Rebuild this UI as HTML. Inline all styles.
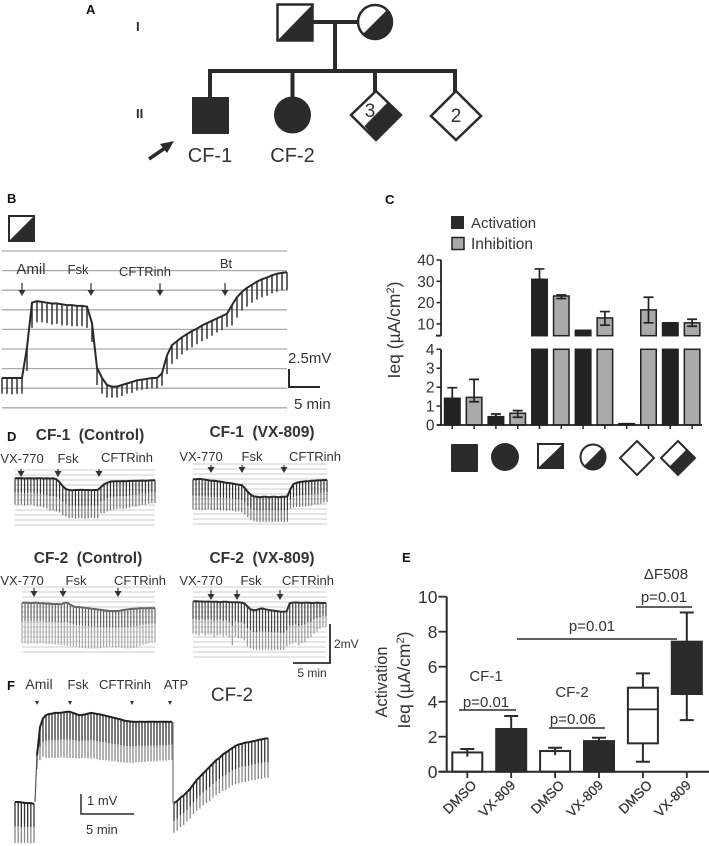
<!DOCTYPE html>
<html lang="en">
<head>
<meta charset="utf-8">
<title>CFTR pedigree and short-circuit current figure</title>
<style>
html,body{margin:0;padding:0;background:#fff;}
svg{display:block;font-family:"Liberation Sans",sans-serif;fill:#2b2b2b;filter:blur(0.35px);}
text{white-space:pre;}
.pl{font-weight:bold;font-size:13px;fill:#111;}
.t13{font-size:13px;fill:#333;}
.t12{font-size:12px;fill:#333;}
.t14{font-size:14px;fill:#333;}
.p{font-size:15px;fill:#333;}
.dk{fill:#2b2b2b;stroke:#2b2b2b;}
.ln{stroke:#2b2b2b;fill:none;}
</style>
</head>
<body>
<svg id="fig" xmlns="http://www.w3.org/2000/svg" width="709" height="846" viewBox="0 0 709 846">

<!-- Panel A -->
<g>
  <text class="pl" x="86" y="14">A</text>
  <text x="136" y="31" style="font-size:13px;font-weight:bold">I</text>
  <text x="136" y="118" style="font-size:13px;font-weight:bold">II</text>
  <g class="ln" stroke-width="4">
    <path d="M313 22H358M335 22V71M208 71H457M210 71V97M292.500 71V97M375 71V92M455 71V92"/>
  </g>
  <g>
    <rect x="277.500" y="4.500" width="35" height="36" fill="#fff" stroke="#2b2b2b" stroke-width="2.500"/>
    <polygon points="313,4 313,41 277,41" fill="#2b2b2b"/>
  </g>
  <g>
    <circle cx="375" cy="22" r="17" fill="#fff" stroke="#2b2b2b" stroke-width="2.500"/>
    <path d="M387.500 9.500A17.500 17.500 0 0 1 362.500 34.500Z" fill="#2b2b2b"/>
  </g>
  <rect x="192" y="97" width="37" height="37" fill="#2b2b2b"/>
  <circle cx="292.500" cy="115" r="18.500" fill="#2b2b2b"/>
  <g>
    <polygon points="376,91 401,115 376,140 351,115" fill="#fff" stroke="#2b2b2b" stroke-width="2.500"/>
    <polygon points="401,115 376,140 364.500,126 387,103" fill="#2b2b2b"/>
    <text x="370" y="117" text-anchor="middle" style="font-size:19px;fill:#333">3</text>
  </g>
  <g>
    <polygon points="456,91 481,116 456,140 431,116" fill="#fff" stroke="#2b2b2b" stroke-width="2.500"/>
    <text x="456" y="122" text-anchor="middle" style="font-size:19px;fill:#333">2</text>
  </g>
  <g>
    <path d="M149 159L168 146" stroke="#2b2b2b" stroke-width="3.500" fill="none"/>
    <polygon points="174,141 160,144 167,153" fill="#2b2b2b"/>
  </g>
  <text x="210" y="162" text-anchor="middle" style="font-size:20px;fill:#333">CF-1</text>
  <text x="292.500" y="162" text-anchor="middle" style="font-size:20px;fill:#333">CF-2</text>
</g>

<!-- Panel B -->
<g>
  <text class="pl" x="7" y="203">B</text>
  <g>
    <rect x="9" y="216" width="25" height="25" fill="#fff" stroke="#2b2b2b" stroke-width="2"/>
    <polygon points="35,215 35,242 8,242" fill="#2b2b2b"/>
  </g>
  <g id="traceB"></g>
  <text x="31" y="274" text-anchor="middle" style="font-size:15px;fill:#333">Amil</text>
  <text class="t13" x="78" y="274" text-anchor="middle">Fsk</text>
  <text class="t13" x="145" y="276" text-anchor="middle">CFTRinh</text>
  <text class="t13" x="226" y="268" text-anchor="middle">Bt</text>
  <g class="ln" stroke-width="2"><path d="M289 369V387H320"/></g>
  <text x="288" y="363" style="font-size:15px;fill:#333">2.5mV</text>
  <text x="294" y="409" style="font-size:15px;fill:#333">5 min</text>
</g>

<!-- Panel C -->
<g>
  <text class="pl" x="385" y="204">C</text>
  <rect x="451" y="216" width="13" height="13" fill="#2b2b2b"/>
  <rect x="452" y="237.500" width="12" height="12" fill="#aaa" stroke="#222" stroke-width="1.500"/>
  <text x="471" y="228" style="font-size:15px;fill:#333">Activation</text>
  <text x="471" y="249" style="font-size:15.500px;fill:#333">Inhibition</text>
  <text transform="translate(400 330) rotate(-90)" text-anchor="middle" style="font-size:17.500px;fill:#333">Ieq (µA/cm<tspan dy="-6" style="font-size:11px">2</tspan><tspan dy="6">)</tspan></text>
  <g id="chartC"></g>
  <rect x="451" y="444" width="27" height="28" rx="1" fill="#2b2b2b"/>
  <circle cx="505" cy="457" r="14" fill="#2b2b2b"/>
  <g>
    <rect x="538" y="444" width="25" height="24" fill="#fff" stroke="#2b2b2b" stroke-width="2"/>
    <polygon points="564,443 564,469 537,469" fill="#2b2b2b"/>
  </g>
  <g>
    <circle cx="593" cy="457" r="12.500" fill="#fff" stroke="#2b2b2b" stroke-width="2"/>
    <path d="M602.500 447.500A13.500 13.500 0 0 1 583.500 466.500Z" fill="#2b2b2b"/>
  </g>
  <polygon points="637,441 654,458 637,475 620,458" fill="#fff" stroke="#2b2b2b" stroke-width="2"/>
  <g>
    <polygon points="678,441 695,458 678,475 661,458" fill="#fff" stroke="#2b2b2b" stroke-width="2"/>
    <polygon points="696,458 678,476 669,467 687,449" fill="#2b2b2b"/>
  </g>
</g>

<!-- Panel D -->
<g>
  <text class="pl" x="7" y="441">D</text>
  <text x="90" y="440" text-anchor="middle" style="font-size:15.500px;font-weight:bold;fill:#333">CF-1  (Control)</text>
  <text x="262" y="437" text-anchor="middle" style="font-size:15.500px;font-weight:bold;fill:#333">CF-1  (VX-809)</text>
  <text x="88" y="563" text-anchor="middle" style="font-size:15.500px;font-weight:bold;fill:#333">CF-2  (Control)</text>
  <text x="262" y="563" text-anchor="middle" style="font-size:15.500px;font-weight:bold;fill:#333">CF-2  (VX-809)</text>
  <g id="traceD1"></g>
  <g id="traceD2"></g>
  <g id="traceD3"></g>
  <g id="traceD4"></g>
  <g class="t13">
    <text x="22" y="463" text-anchor="middle">VX-770</text>
    <text x="68" y="463" text-anchor="middle">Fsk</text>
    <text x="127" y="462" text-anchor="middle">CFTRinh</text>
    <text x="201" y="461" text-anchor="middle">VX-770</text>
    <text x="252" y="461" text-anchor="middle">Fsk</text>
    <text x="315" y="461" text-anchor="middle">CFTRinh</text>
    <text x="22" y="585" text-anchor="middle">VX-770</text>
    <text x="76" y="585" text-anchor="middle">Fsk</text>
    <text x="140" y="585" text-anchor="middle">CFTRinh</text>
    <text x="201" y="585" text-anchor="middle">VX-770</text>
    <text x="251" y="585" text-anchor="middle">Fsk</text>
    <text x="308" y="585" text-anchor="middle">CFTRinh</text>
  </g>
  <g class="ln" stroke-width="1.800"><path d="M330 624V663H293"/></g>
  <text class="t12" x="334" y="648">2mV</text>
  <text class="t12" x="312" y="677" text-anchor="middle">5 min</text>
</g>

<!-- Panel F -->
<g>
  <text class="pl" x="7" y="690">F</text>
  <text x="39" y="689" text-anchor="middle" style="font-size:14px;fill:#333">Amil</text>
  <text class="t13" x="78" y="689" text-anchor="middle">Fsk</text>
  <text class="t13" x="125" y="689" text-anchor="middle">CFTRinh</text>
  <text class="t13" x="176" y="689" text-anchor="middle">ATP</text>
  <text x="232" y="701" text-anchor="middle" style="font-size:19px;fill:#333">CF-2</text>
  <g fill="#333">
    <polygon points="35,701 39,701 37,705"/>
    <polygon points="68,701 72,701 70,705"/>
    <polygon points="130,701 134,701 132,705"/>
    <polygon points="168,701 172,701 170,705"/>
  </g>
  <g id="traceF"></g>
  <g class="ln" stroke-width="1.500"><path d="M81 794V814H134"/></g>
  <text class="t13" x="87" y="805">1 mV</text>
  <text class="t13" x="86" y="834">5 min</text>
</g>

<!-- Panel E -->
<g>
  <text class="pl" x="402" y="562">E</text>
  <text transform="translate(387 682) rotate(-90)" text-anchor="middle" style="font-size:16.400px;fill:#333">Activation</text>
  <text transform="translate(410 680) rotate(-90)" text-anchor="middle" style="font-size:17.500px;fill:#333">Ieq (µA/cm<tspan dy="-6" style="font-size:11px">2</tspan><tspan dy="6">)</tspan></text>
  <g id="chartE"></g>
  <text class="p" x="666" y="579" text-anchor="middle">ΔF508</text>
  <text class="p" x="664" y="602" text-anchor="middle">p=0.01</text>
  <line class="ln" x1="636" y1="607" x2="692" y2="607" stroke-width="1.500"/>
  <text class="p" x="592" y="631" text-anchor="middle">p=0.01</text>
  <line class="ln" x1="517" y1="639" x2="677" y2="639" stroke-width="1.500"/>
  <text class="p" x="486" y="681" text-anchor="middle">CF-1</text>
  <text class="p" x="486" y="707" text-anchor="middle">p=0.01</text>
  <line class="ln" x1="459" y1="710" x2="516" y2="710" stroke-width="1.500"/>
  <text class="p" x="572" y="697" text-anchor="middle">CF-2</text>
  <text class="p" x="573" y="724" text-anchor="middle">p=0.06</text>
  <line class="ln" x1="549" y1="728" x2="605" y2="728" stroke-width="1.500"/>
</g>

<script>
/* ---------- Panel C data ---------- */
var cTickUpper = [40, 30, 20, 10];
var cTickLower = [4, 3, 2, 1, 0];
var cActivation = [1.41, 0.44, 30.9, 7, 0.07, 10.5];
var cActivationHi = [1.97, 0.58, 35.8, 7, 0.07, 10.5];
var cInhibition = [1.46, 0.62, 23.1, 12.8, 16.6, 10.5];
var cInhibitionHi = [2.41, 0.76, 23.6, 15.8, 22.5, 12.2];
var cInhibitionLo = [1.23, 0.41, 21.9, 9.4, 10.5, 8.9];

/* ---------- Panel E data ---------- */
var eCategories = ['DMSO', 'VX-809', 'DMSO', 'VX-809', 'DMSO', 'VX-809'];
var eTicks = [0, 2, 4, 6, 8, 10];
var eBoxTop = [1.1, 2.44, 1.18, 1.75, 4.8, 7.43];
var eBoxBottom = [0, 0, 0, 0, 1.62, 4.44];
var eMedian = [null, null, null, null, 3.56, null];
var eWhiskerHi = [1.3, 3.18, 1.37, 1.94, 5.62, 9.1];
var eWhiskerLo = [0.86, 2.44, 0.95, 1.75, 0.57, 2.95];

/* ---------- Trace data (mV above each panel's reference line) ---------- */
var bTop = [3.7,3.7,3.7,3.7,3.7,7.6,13.3,13.5,13.4,13.3,13.2,13.2,13.1,13,13,12.9,12.9,12.8,10.7,5,3.7,2.8,2.6,2.6,2.8,3,3.2,3.4,3.5,3.6,3.7,3.7,4.3,6.6,7.9,8.4,8.9,9.3,9.7,10,10.4,10.7,11,11.3,11.6,11.9,13,14,14.7,15.2,15.6,16,16.3,16.5,16.8,17,17.1,17.2];
var bDepth = [2,2,2.1,2,2,3,3.2,2.7,2.6,2.6,2.7,2.6,2.7,2.6,2.7,2.6,2.6,2.7,2.4,2.2,2,1.6,1.4,1.4,1.4,1.3,1.4,1.3,1.3,1.3,1.3,1.3,1.6,2.4,2.4,2.3,2.2,2.1,2.1,2,2,2,1.9,1.8,1.8,1.7,2.6,2.6,2.4,2.4,2.3,2.3,2.3,2.3,2.3,2.3,2.2,2.3];
var bMarkers = [4, 17.8, 31.6, 44.6];

var d1Top = [2.65,2.66,2.65,2.64,2.65,2.65,2.64,2.65,2.65,2.64,2.65,2.64,2.65,2.6,2.45,2.25,2.1,2.05,2.04,2.05,2.05,2.06,2.05,2.05,2.04,2.05,2.05,2.2,2.35,2.42,2.48,2.49,2.5,2.5,2.51,2.5,2.52,2.52,2.53,2.53,2.54,2.53,2.54,2.55,2.55];
var d1Bot = [1.3,1.28,1.3,1.25,1.28,1.3,1.25,1.2,1.2,1.15,1.1,1,1,0.95,0.9,0.75,0.7,0.6,0.62,0.58,0.6,0.6,0.58,0.6,0.62,0.6,0.6,0.85,0.85,0.95,1,1.05,1.08,1.1,1.08,1.1,1.15,1.2,1.2,1.25,1.3,1.3,1.35,1.38,1.38];
var d2Top = [2.5,2.5,2.52,2.5,2.48,2.45,2.42,2.42,2.4,2.38,2.35,2.32,2.3,2.28,2.25,2.22,2.2,2.05,1.85,1.7,1.62,1.6,1.58,1.6,1.6,1.58,1.6,1.6,1.58,1.6,1.6,1.62,2,2.25,2.32,2.36,2.38,2.4,2.4,2.42,2.42,2.44,2.44,2.46,2.46];
var d2Bot = [0.95,0.92,0.92,0.9,0.92,0.95,0.92,0.9,0.92,0.9,0.9,0.88,0.9,0.88,0.85,0.85,0.8,0.7,0.55,0.42,0.35,0.32,0.3,0.32,0.3,0.32,0.3,0.32,0.3,0.32,0.3,0.32,1,1.05,1.08,1.08,1.1,1.1,1.12,1.15,1.2,1.2,1.25,1.3,1.33];
var d3Top = [2.42,2.42,2.42,2.4,2.42,2.42,2.4,2.4,2.38,2.38,2.36,2.36,2.36,2.34,2.42,2.42,2.32,2.24,2.2,2.2,2.18,2.16,2.14,2.12,2.1,2.08,2.06,2.04,2.02,2,2,2,2,2.04,2.06,2.08,2.1,2.12,2.12,2.14,2.14,2.14,2.15,2.15,2.15];
var d3Bot = [0.35,0.35,0.3,0.35,0.35,0.32,0.35,0.35,0.3,0.3,0.3,0.28,0.28,0.25,0.25,0.22,0.2,0.18,0.15,0.12,0.1,0.08,0.08,0.08,0.08,0.08,0.1,0.12,0.12,0.15,0.15,0.12,0.15,0.1,0.08,0.08,0.08,0.1,0.12,0.2,0.25,0.3,0.35,0.4,0.4];
var d4Top = [2.9,2.92,2.9,2.9,2.88,2.9,2.88,2.88,2.88,2.86,2.88,2.88,2.86,2.86,2.86,2.86,2.84,2.8,2.65,2.5,2.45,2.46,2.52,2.54,2.5,2.46,2.44,2.42,2.4,2.38,2.37,2.4,2.8,2.84,2.85,2.84,2.82,2.84,2.84,2.82,2.82,2.84,2.82,2.82,2.82];
var d4Bot = [1.25,1.2,1.15,1.25,1.15,1.2,1.2,1.1,1.15,1.2,1.1,1.15,1.05,0.65,1.1,1,1,0.9,0.6,0.5,0.42,0.4,0.42,0.4,0.42,0.4,0.4,0.42,0.42,0.4,0.42,0.6,0.7,0.75,0.8,0.65,0.75,0.8,1,1.05,1.25,1.35,1.5,1.6,1.6];

var f1Top = [2,2,1.98,1.96,1.95,1.95,1.92];
var f1Bot = [0.14,0.14,0.12,0.14,0.14,0.12,0.14];
var f2Top = [4.1,5.4,5.8,5.95,6,6.02,6.05,6.05,6.06,6.08,6.1,6.1,6.05,6,5.95,5.95,5.98,6.02,6.05,6.03,6,5.98,5.95,5.92,5.88,5.85,5.82,5.78,5.75,5.7,5.68,5.66,5.65,5.64,5.65,5.65,5.64,5.65,5.65,5.65,5.64,5.65,5.65,5.65,5.64,5.65];
var f2Bot = [3.5,3.9,4.05,4,4,4.02,4,4,4.02,4.02,4,4,4,3.98,3.98,4,4,3.98,3.98,3.98,3.95,3.92,3.9,3.9,3.88,3.85,3.85,3.82,3.8,3.8,3.78,3.78,3.78,3.8,3.82,3.82,3.82,3.85,3.85,3.85,3.85,3.88,3.88,3.88,3.9,3.9];
var f3Top = [1.95,2.05,2.2,2.3,2.45,2.6,2.8,3,3.15,3.3,3.45,3.6,3.75,3.9,4,4.15,4.25,4.35,4.45,4.55,4.62,4.65,4.7,4.72,4.75,4.78,4.82,4.85,4.88,4.9];
var f3Bot = [0.6,0.7,0.85,0.95,1.1,1.25,1.45,1.6,1.7,1.85,1.95,2.05,2.2,2.3,2.4,2.5,2.55,2.65,2.75,2.8,2.85,2.9,2.9,2.95,3,3,3.05,3.05,3.1,3.1];

/* ---------- helpers ---------- */
var SVGNS = 'http://www.w3.org/2000/svg';
function mk(parent, tag, props) {
  var el = document.createElementNS(SVGNS, tag);
  for (var k in props) { el.setAttribute(k, props[k]); }
  parent.appendChild(el);
  return el;
}
function downArrow(group, x, y1, y2) {
  var s = mk(group, 'line', {x1: x, x2: x, y1: y1, y2: y2 - 3, stroke: '#333', 'stroke-width': 1.2});
  
  
  var h = mk(group, 'polygon', {points: (x - 3.5) + ',' + (y2 - 6) + ' ' + (x + 3.5) + ',' + (y2 - 6) + ' ' + x + ',' + y2, fill: '#333'});
  
  
}
function drawTrace(group, cfg, tops, bots) {
  var n = tops.length;
  var xOf = function (i) { return cfg.x0 + (cfg.x1 - cfg.x0) * i / (n - 1); };
  var yOf = function (v) { return cfg.base - v * cfg.pxPerMv; };
  for (var i = 0; i < n; i++) {
    var x = xOf(i);
    var yt = yOf(tops[i]);
    var yb = yOf(bots[i]);
    var ym = yt + (yb - yt) * cfg.split;
    var a = mk(group, 'line', {x1: x, x2: x, y1: yt, y2: ym, stroke: cfg.upper, 'stroke-width': cfg.pulse});
    
    
    var b = mk(group, 'line', {x1: x, x2: x, y1: ym, y2: yb, stroke: cfg.lower, 'stroke-width': cfg.pulse});
    
    
  }
  var pts = tops.map(function (v, i) { return xOf(i).toFixed(1) + ',' + yOf(v).toFixed(1); }).join(' ');
  var line = mk(group, 'polyline', {points: pts, fill: 'none', stroke: cfg.line, 'stroke-width': cfg.width});
  
  
}
function drawGrid(group, x0, x1, yStart, yEnd, step, color, width) {
  for (var y = yStart; y <= yEnd + 0.01; y += step) {
    var g = mk(group, 'line', {x1: x0, x2: x1, y1: y, y2: y, stroke: color, 'stroke-width': width});
    
    
  }
}

/* ---------- Panel B ---------- */
(function () {
  var g = document.getElementById('traceB');
  drawGrid(g, 2, 287, 251, 408, 19.6, '#aaa', 1.3);
  var cfg = {x0: 2, x1: 287, base: 407, pxPerMv: 7.84, split: 1, upper: '#333', lower: '#333', line: '#2a2a2a', width: 2, pulse: 1.5};
  var bots = bTop.map(function (v, i) { return v - bDepth[i]; });
  drawTrace(g, cfg, bTop, bots);
  bMarkers.forEach(function (i) {
    downArrow(g, 2 + 285 * i / (bTop.length - 1), 283, 296);
  });
})();

/* ---------- Panels D ---------- */
(function () {
  var panels = [
    {id: 'traceD1', tops: d1Top, bots: d1Bot, x0: 15, x1: 155, base: 530, gTop: 470, gEnd: 525, line: '#2a2a2a', upper: '#333', lower: '#777', arrows: [21, 58, 99], ay: [469, 477], split: 0.55},
    {id: 'traceD2', tops: d2Top, bots: d2Bot, x0: 193, x1: 327, base: 528, gTop: 464, gEnd: 528, line: '#2a2a2a', upper: '#333', lower: '#777', arrows: [211, 242, 284], ay: [465, 473], split: 0.55},
    {id: 'traceD3', tops: d3Top, bots: d3Bot, x0: 22, x1: 155, base: 650, gTop: 587, gEnd: 652, line: '#666', upper: '#666', lower: '#aaa', arrows: [34, 63, 118], ay: [588, 597], split: 0.45},
    {id: 'traceD4', tops: d4Top, bots: d4Bot, x0: 193, x1: 326, base: 658, gTop: 587, gEnd: 658, line: '#333', upper: '#444', lower: '#999', arrows: [211, 237, 280], ay: [590, 600], split: 0.55}
  ];
  panels.forEach(function (p) {
    var g = document.getElementById(p.id);
    drawGrid(g, p.x0, p.x1, p.gTop, p.gEnd, 5, '#ccc', 1);
    var cfg = {x0: p.x0, x1: p.x1, base: p.base, pxPerMv: 19.5, split: p.split, upper: p.upper, lower: p.lower, line: p.line, width: 2, pulse: 1.2};
    drawTrace(g, cfg, p.tops, p.bots);
    p.arrows.forEach(function (x) { downArrow(g, x, p.ay[0], p.ay[1]); });
  });
})();

/* ---------- Panel F ---------- */
(function () {
  var g = document.getElementById('traceF');
  var common = {base: 846, pxPerMv: 22, split: 0.6, upper: '#333', lower: '#888', line: '#222', width: 2, pulse: 1.3};
  function seg(x0, x1, t, b) {
    var cfg = Object.assign({}, common, {x0: x0, x1: x1});
    drawTrace(g, cfg, t, b);
  }
  seg(15, 34, f1Top, f1Bot);
  seg(37, 172, f2Top, f2Bot);
  seg(174, 268, f3Top, f3Bot);
  var r = mk(g, 'line', {x1: 35, x2: 37, y1: 802, y2: 755, stroke: '#555', 'stroke-width': 1.2});
  
  
  var d = mk(g, 'line', {x1: 173, x2: 173, y1: 722, y2: 803, stroke: '#777', 'stroke-width': 1.2});
  
  
})();

/* ---------- Panel C ---------- */
(function () {
  var g = document.getElementById('chartC');
  var yU = function (v) { return 260 + (40 - v) * 2.13; };
  var yL = function (v) { return 425 - v * 18.93; };
  var xOf = function (i) { return 452.3 + 21.8 * i; };
  var upperFloor = 335.7;
  var w = 15.5;
  var yAny = function (v) { return v > 4 ? yU(v) : yL(v); };

  function bar(i, v, fill) {
    var x = xOf(i) - w / 2;
    var lowTop = v > 4 ? yL(4) : yL(v);
    var lo = mk(g, 'rect', {x: x, y: lowTop, width: w, height: 425 - lowTop, fill: fill, stroke: '#222', 'stroke-width': 1.5});
    
    
    if (v > 4.4) {
      var up = mk(g, 'rect', {x: x, y: yU(v), width: w, height: upperFloor - yU(v), fill: fill, stroke: '#222', 'stroke-width': 1.5});
      
      
    }
  }
  function err(i, hi, lo) {
    var x = xOf(i);
    var l = mk(g, 'path', {d: 'M' + x + ' ' + yAny(hi) + 'V' + yAny(lo) + 'M' + (x - 5) + ' ' + yAny(hi) + 'H' + (x + 5) + 'M' + (x - 5) + ' ' + yAny(lo) + 'H' + (x + 5), stroke: '#222', 'stroke-width': 1.7, fill: 'none'});
    
    
  }
  cActivation.forEach(function (v, k) {
    bar(k * 2, v, '#222');
    err(k * 2, cActivationHi[k], v);
  });
  cInhibition.forEach(function (v, k) {
    bar(k * 2 + 1, v, '#aaa');
    err(k * 2 + 1, cInhibitionHi[k], cInhibitionLo[k]);
  });

  var ax = mk(g, 'path', {d: 'M441 ' + yU(40) + 'V' + upperFloor + 'M436 ' + upperFloor + 'H441M441 ' + yL(4) + 'V425M437 425H702', stroke: '#222', 'stroke-width': 1.8, fill: 'none'});
  
  
  for (var i = 0; i < 12; i++) {
    var t = mk(g, 'line', {x1: xOf(i), x2: xOf(i), y1: 425, y2: 429, stroke: '#222', 'stroke-width': 1.5});
    
    
  }
  function yTick(y, label) {
    var t = mk(g, 'line', {x1: 436.5, x2: 441, y1: y, y2: y, stroke: '#222', 'stroke-width': 1.5});
    
    
    var s = mk(g, 'text', {x: 434.5, y: y + 5.5, 'text-anchor': 'end', style: 'font-size:15.5px;fill:#333'});
    s.textContent = label;
    
    
  }
  cTickUpper.forEach(function (v) { yTick(yU(v), v); });
  cTickLower.forEach(function (v) { yTick(yL(v), v); });
})();

/* ---------- Panel E ---------- */
(function () {
  var g = document.getElementById('chartE');
  var y = function (v) { return 771.7 - v * 17.5; };
  var xOf = function (i) { return 467.3 + 43.9 * i; };
  var w = 30;
  eCategories.forEach(function (name, i) {
    var x = xOf(i);
    var dark = i % 2 === 1;
    var wh = mk(g, 'path', {d: 'M' + x + ' ' + y(eWhiskerHi[i]) + 'V' + y(eWhiskerLo[i]) + 'M' + (x - 7) + ' ' + y(eWhiskerHi[i]) + 'H' + (x + 7) + (dark && i < 4 ? '' : 'M' + (x - 7) + ' ' + y(eWhiskerLo[i]) + 'H' + (x + 7)), stroke: '#2b2b2b', 'stroke-width': 2, fill: 'none'});
    
    
    var box = mk(g, 'rect', {x: x - w / 2, y: y(eBoxTop[i]), width: w, height: y(eBoxBottom[i]) - y(eBoxTop[i]), fill: dark ? '#2b2b2b' : '#fff', stroke: '#2b2b2b', 'stroke-width': 2});
    
    
    if (eMedian[i] !== null) {
      var m = mk(g, 'line', {x1: x - w / 2, x2: x + w / 2, y1: y(eMedian[i]), y2: y(eMedian[i]), stroke: '#2b2b2b', 'stroke-width': 1.8});
      
      
    }
    if (i < 4 && !dark) {
      var rw = mk(g, 'path', {d: 'M' + x + ' ' + y(eBoxTop[i]) + 'V' + y(eWhiskerLo[i]), stroke: '#2b2b2b', 'stroke-width': 2});
      
      
    }
    var t = mk(g, 'line', {x1: x, x2: x, y1: 771.7, y2: 778, stroke: '#2b2b2b', 'stroke-width': 1.8});
    
    
    var lx = x + (name === 'DMSO' ? 10 : 5);
    var s = mk(g, 'text', {transform: 'translate(' + lx + ' 786) rotate(-45)', 'text-anchor': 'end', style: 'font-size:13.5px;fill:#333;stroke:#333;stroke-width:0.25'});
    s.textContent = name;
    
    
  });
  var ax = mk(g, 'path', {d: 'M446.7 ' + y(10) + 'V771.7M438.500 771.7H709', stroke: '#2b2b2b', 'stroke-width': 2, fill: 'none'});
  
  
  eTicks.forEach(function (v) {
    var t = mk(g, 'line', {x1: 438.5, x2: 446.7, y1: y(v), y2: y(v), stroke: '#2b2b2b', 'stroke-width': 1.8});
    
    
    var s = mk(g, 'text', {x: 437.5, y: y(v) + 6.5, 'text-anchor': 'end', style: 'font-size:17.5px;fill:#333'});
    s.textContent = v;
    
    
  });
})();
</script>
</svg>
</body>
</html>
